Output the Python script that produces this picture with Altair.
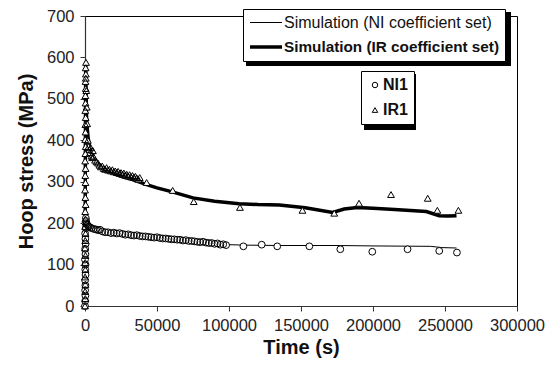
import altair as alt
import pandas as pd

# ---- data ----
ni_sim_t = [0, 200, 400, 700, 1000, 2000, 4000, 7000, 10400, 16000, 26400, 42800, 66000,
            89000, 100000, 110000, 135000, 175000, 200000, 240000, 248000, 258000]
ni_sim_s = [0, 160, 235, 215, 205, 195, 188, 184, 182, 178, 175, 167, 159,
            152, 148, 147, 146, 146, 145, 144, 141, 140]

ir_sim_t = [0, 200, 500, 800, 1100, 2000, 3000, 4600, 7000, 10000, 15000, 20000, 25000,
            33000, 42800, 50000, 60000, 75000, 90000, 107000, 120000, 135000, 153000,
            172000, 180000, 189000, 200000, 215000, 237000, 246000, 252000, 258000]
ir_sim_s = [0, 320, 590, 510, 450, 410, 388, 370, 352, 340, 329, 320, 313,
            305, 293, 285, 276, 261, 253, 247, 245, 244, 237,
            226, 234, 238, 236, 233, 228, 218, 217, 218]

ni1_t = [0, 150, 300, 100, 250, 50, 400, 200, 350, 0, 300, 150, 450, 250, 100, 500, 300,
         600, 800, 1200, 1800, 2500, 3500, 4500, 6000, 7500, 9000, 10500, 12000, 14000,
         16000, 18000, 20000, 22000, 24000, 26000, 28000, 30000, 32000, 34000, 36000,
         38000, 40000, 42000, 44000, 46000, 48000, 50000, 52000, 54000, 56000, 58000,
         60000, 62000, 64000, 66000, 68000, 70000, 72000, 74000, 76000, 78000, 80000,
         82000, 84000, 86000, 88000, 90000, 92000, 94000, 96000, 98000,
         110000, 122700, 133500, 155800, 177300, 199500, 224000, 246000, 258300]
ni1_s = [0, 12, 25, 38, 50, 62, 75, 88, 100, 112, 125, 138, 150, 162, 175, 188, 200,
         212, 205, 198, 195, 192, 190, 188, 186, 185, 183, 184, 180, 178,
         178, 176, 177, 175, 176, 174, 172, 173, 171, 170, 171,
         169, 168, 168, 167, 166, 165, 166, 164, 163, 163, 162,
         161, 161, 160, 160, 158, 159, 157, 157, 156, 155, 154,
         155, 153, 152, 152, 150, 151, 148, 149, 147,
         144, 148, 144, 144, 137, 131, 137, 133, 129]

ir1_t = [0, 200, 100, 300, 50, 250, 150, 350, 0, 200, 400, 100, 300, 150, 450, 250, 50,
         350, 200, 400, 100, 300, 500, 150, 350, 250, 450, 200, 400, 300, 500, 350,
         600, 450, 700, 550,
         900, 1200, 1500, 2000, 2500, 3000, 3500, 4000, 4500, 5000, 5500, 6000, 7000,
         8000, 9000, 10000, 11000, 12000, 13000, 14000, 15000, 16000, 17000, 18000,
         19000, 20000, 21000, 22000, 23000, 24000, 25000, 26000, 27000, 28000, 29000,
         30000, 31000, 32000, 33000, 34000, 35000, 36000, 37000, 38000,
         42800, 60900, 75500, 107600, 151000, 173100, 190300, 212500, 238000, 244700, 259300]
ir1_s = [0, 18, 35, 52, 70, 88, 105, 122, 140, 158, 175, 192, 210, 228, 245, 262, 280,
         298, 315, 332, 350, 368, 385, 402, 420, 438, 455, 472, 490, 508, 525, 542,
         560, 575, 588, 550,
         520, 480, 440, 400, 385, 378, 370, 382, 362, 358, 375, 360, 352,
         348, 345, 340, 336, 338, 332, 330, 334, 328, 330, 326,
         329, 324, 326, 322, 325, 320, 322, 318, 321, 316, 318,
         314, 317, 312, 315, 311, 313, 309, 306, 310,
         298, 279, 252, 238, 231, 224, 248, 269, 260, 231, 231]

sim_names = ["Simulation (NI coefficient set)", "Simulation (IR coefficient set)"]
exp_names = ["NI1", "IR1"]
y_ticks = [0, 100, 200, 300, 400, 500, 600, 700]
x_ticks = [0, 50000, 100000, 150000, 200000, 250000, 300000]

sim = pd.concat([
    pd.DataFrame({"t": ni_sim_t, "s": ni_sim_s, "series": sim_names[0]}),
    pd.DataFrame({"t": ir_sim_t, "s": ir_sim_s, "series": sim_names[1]}),
])
exp = pd.concat([
    pd.DataFrame({"t": ni1_t, "s": ni1_s, "set": exp_names[0]}),
    pd.DataFrame({"t": ir1_t, "s": ir1_s, "set": exp_names[1]}),
])

FONT = "Liberation Sans"
IRLBL = "datum.label == 'Simulation (IR coefficient set)'"

x_enc = alt.X("t:Q", scale=alt.Scale(domain=[0, 300000], nice=False),
              axis=alt.Axis(values=x_ticks, format="d", title="Time (s)",
                            labelOverlap=False, labelFlush=False))
y_enc = alt.Y("s:Q", scale=alt.Scale(domain=[0, 700], nice=False),
              axis=alt.Axis(values=y_ticks, title="Hoop stress (MPa)",
                            labelOverlap=False, labelFlush=False))

lines = alt.Chart(sim).mark_line(color="black", interpolate="linear").encode(
    x=x_enc, y=y_enc,
    detail="series:N",
    strokeWidth=alt.StrokeWidth(
        "series:O",
        scale=alt.Scale(domain=sim_names, range=[1, 3.5]),
        legend=alt.Legend(
            title=None, orient="none", legendX=158, legendY=-7,
            symbolType="M-2,0H2", symbolSize=256, symbolStrokeColor="black",
            symbolOffset=8,
            labelFont=FONT, labelColor="#111", labelOffset=8,
            padding=5, rowPadding=6, strokeColor="black", fillColor="white",
            labelLimit=400,
            labelFontWeight=alt.ExprRef(expr=IRLBL + " ? 'bold' : 'normal'"),
            labelFontSize=alt.ExprRef(expr=IRLBL + " ? 15.3 : 16"),
        ),
    ),
)

# white fill behind the hollow markers (markers sit on top of the lines)
bg_ni = alt.Chart(exp).transform_filter(alt.datum.set == exp_names[0]).mark_point(
    filled=True, color="white", opacity=1, size=46, shape="circle").encode(x=x_enc, y=y_enc)
bg_ir = alt.Chart(exp).transform_filter(alt.datum.set == exp_names[1]).mark_point(
    filled=True, color="white", opacity=1, size=46, shape="triangle-up").encode(x=x_enc, y=y_enc)

points = alt.Chart(exp).mark_point(filled=False, color="black", opacity=1,
                                   strokeWidth=1, size=46).encode(
    x=x_enc, y=y_enc,
    shape=alt.Shape(
        "set:N",
        scale=alt.Scale(domain=exp_names, range=["circle", "triangle-up"]),
        legend=alt.Legend(
            title=None, orient="none", legendX=276, legendY=55,
            symbolSize=30, symbolStrokeColor="black",
            symbolStrokeWidth=1,
            labelFont=FONT, labelFontSize=16, labelFontWeight="bold", labelColor="#111",
            labelOffset=0, padding=6, rowPadding=9,
            strokeColor="black", fillColor="white",
        ),
    ),
)

one = pd.DataFrame({"k": [0]})
shadow1 = alt.Chart(one).mark_rect(color="black").encode(
    x=alt.value(161), x2=alt.value(426), y=alt.value(-4), y2=alt.value(50))
shadow2 = alt.Chart(one).mark_rect(color="black").encode(
    x=alt.value(279), x2=alt.value(331), y=alt.value(58), y2=alt.value(114))

chart = alt.layer(shadow1, shadow2, lines, bg_ni, bg_ir, points).properties(
    width=432, height=290,
    autosize=alt.AutoSizeParams(type="none"),
    padding={"left": 85, "top": 16, "right": 40, "bottom": 62},
    background="white",
).configure_view(stroke="black", strokeWidth=1).configure_axis(
    grid=False, domainColor="#333", tickColor="#333", domainWidth=1.2,
    tickSize=5, labelFont=FONT, labelFontSize=16.5, labelColor="#222",
    titleFont=FONT, titleFontSize=20, titleFontWeight="bold", titleColor="#111",
).configure_axisY(labelPadding=6, titlePadding=10).configure_axisX(
    labelPadding=6, titlePadding=4)

chart.save("out.html", embed_options={"renderer": "svg", "actions": False})
